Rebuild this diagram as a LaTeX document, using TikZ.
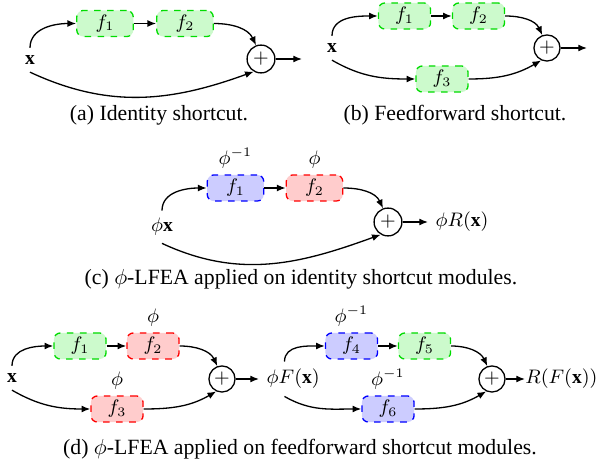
\documentclass[tikz,border=0pt]{standalone}
\usepackage{fontspec}
\setmainfont{Liberation Serif}
\usetikzlibrary{positioning,arrows.meta}
\definecolor{grnline}{RGB}{0,220,0}
\definecolor{grnfill}{RGB}{204,250,204}
\definecolor{blueline}{RGB}{0,0,255}
\definecolor{bluefill}{RGB}{204,204,255}
\definecolor{redline}{RGB}{255,0,0}
\definecolor{redfill}{RGB}{255,204,204}

\begin{document}
\begin{tikzpicture}[x=0.46pt,y=0.46pt,
    blk/.style={rounded corners=3pt,dashed,semithick,minimum height=12pt,minimum width=24pt,inner sep=0pt,font=\small},
    gblk/.style={blk,draw=grnline,fill=grnfill},
    bblk/.style={blk,draw=blueline,fill=bluefill},
    rblk/.style={blk,draw=redline,fill=redfill},
    sumnode/.style={circle,draw,semithick,minimum size=12pt,inner sep=0pt,font=\small},
    lbl/.style={font=\small},
    arr/.style={-{Latex[length=4pt,width=3.2pt]},semithick}]
        \useasboundingbox (0,0) rectangle (598,-466);
        % (a) identity shortcut
        \node[lbl] (a-x) at (30,-60) {$\mathbf{x}$};
        \node[gblk,minimum width=26pt] (a-f1) at (105,-23.5) {$f_1$};
        \node[gblk,minimum width=26pt] (a-f2) at (185,-23.5) {$f_2$};
        \node[sumnode,minimum size=12.8pt] (a-sum) at (261,-59) {$+$};
        \coordinate (a-out) at (302,-59);
        \draw[arr] (a-x.north) to[out=90,in=180] (a-f1.west);
        \draw[arr] (a-f1) -- (a-f2);
        \draw[arr] (a-f2.east) to[out=0,in=115] (a-sum.110);
        \draw[arr] (a-x.south) to[out=-25,in=200] (a-sum.240);
        \draw[arr] (a-sum) -- (a-out);
        \node at (159,-115) {(a) Identity shortcut.};
        % (b) feedforward shortcut
        \node[lbl] (b-x) at (332,-48) {$\mathbf{x}$};
        \node[gblk] (b-f1) at (404.5,-16) {$f_1$};
        \node[gblk] (b-f2) at (478.5,-16) {$f_2$};
        \node[gblk] (b-f3) at (442,-79) {$f_3$};
        \node[sumnode] (b-sum) at (547,-48) {$+$};
        \coordinate (b-out) at (587,-48);
        \draw[arr] (b-x.north) to[out=90,in=180] (b-f1.west);
        \draw[arr] (b-f1) -- (b-f2);
        \draw[arr] (b-f2.east) to[out=0,in=115] (b-sum.110);
        \draw[arr] (b-x.south) to[out=-30,in=180] (b-f3.west);
        \draw[arr] (b-f3.east) to[out=0,in=210] (b-sum.245);
        \draw[arr] (b-sum) -- (b-out);
        \node at (455,-115) {(b) Feedforward shortcut.};
        % (c) phi-LFEA, identity shortcut
        \node[lbl] (c-x) at (162,-227) {$\phi\mathbf{x}$};
        \node[bblk,minimum width=26pt,label={[lbl,label distance=-1pt]above:$\phi^{-1}$}] (c-f1) at (235.5,-188) {$f_1$};
        \node[rblk,minimum width=26pt,label={[lbl,label distance=-1pt]above:$\phi$}] (c-f2) at (314.5,-188) {$f_2$};
        \node[sumnode,minimum size=12.8pt] (c-sum) at (388,-222) {$+$};
        \node[lbl,anchor=west] (c-out) at (428,-222) {$\phi R(\mathbf{x})$};
        \draw[arr] (c-x.north) to[out=90,in=180] (c-f1.west);
        \draw[arr] (c-f1) -- (c-f2);
        \draw[arr] (c-f2.east) to[out=0,in=115] (c-sum.110);
        \draw[arr] (c-x.south) to[out=-25,in=200] (c-sum.240);
        \draw[arr] (c-sum) -- (c-out);
        \node at (301,-279) {(c) $\phi$-LFEA applied on identity shortcut modules.};
        % (d) phi-LFEA, feedforward shortcut
        \node[lbl] (d-x) at (12,-378) {$\mathbf{x}$};
        \node[gblk] (d-f1) at (80,-346) {$f_1$};
        \node[rblk,label={[lbl,label distance=-1pt]above:$\phi$}] (d-f2) at (153,-346) {$f_2$};
        \node[rblk,label={[lbl,label distance=-1pt]above:$\phi$}] (d-f3) at (117,-409) {$f_3$};
        \node[sumnode] (d-sum) at (222,-379) {$+$};
        \node[lbl,anchor=west] (d-mid) at (259,-379) {$\phi F(\mathbf{x})$};
        \node[bblk,label={[lbl,label distance=-1pt]above:$\phi^{-1}$}] (d-f4) at (351.5,-346) {$f_4$};
        \node[gblk] (d-f5) at (424.5,-346) {$f_5$};
        \node[bblk,label={[lbl,label distance=-1pt]above:$\phi^{-1}$}] (d-f6) at (388,-409) {$f_6$};
        \node[sumnode] (d-sum2) at (492,-379) {$+$};
        \node[lbl,anchor=west,inner sep=0pt] (d-out) at (525,-379) {$R(F(\mathbf{x}))$};
        \draw[arr] (d-x.north) to[out=90,in=180] (d-f1.west);
        \draw[arr] (d-f1) -- (d-f2);
        \draw[arr] (d-f2.east) to[out=0,in=115] (d-sum.110);
        \draw[arr] (d-x.south) to[out=-30,in=180] (d-f3.west);
        \draw[arr] (d-f3.east) to[out=0,in=210] (d-sum.245);
        \draw[arr] (d-sum) -- (d-mid);
        \draw[arr] ([xshift=-4pt]d-mid.north) to[out=90,in=180] (d-f4.west);
        \draw[arr] (d-f4) -- (d-f5);
        \draw[arr] (d-f5.east) to[out=0,in=115] (d-sum2.110);
        \draw[arr] ([xshift=-4pt]d-mid.south) to[out=-30,in=180] (d-f6.west);
        \draw[arr] (d-f6.east) to[out=0,in=210] (d-sum2.245);
        \draw[arr] (d-sum2) -- (d-out);
        \node at (300,-449) {(d) $\phi$-LFEA applied on feedforward shortcut modules.};
      \end{tikzpicture}
\end{document}
